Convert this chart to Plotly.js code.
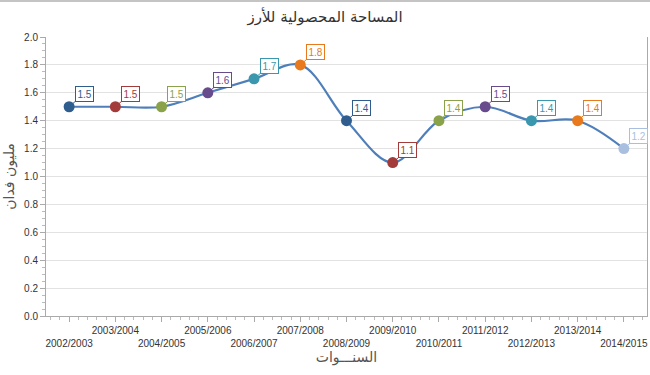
<!DOCTYPE html>
<html>
<head>
<meta charset="utf-8">
<script src="https://cdn.plot.ly/plotly-3.0.1.min.js"></script>
<style>
html,body{margin:0;padding:0;background:#fff;}
#wrap{width:650px;height:375px;box-sizing:border-box;border-top:2px solid #c4c4c4;}
#chart{width:650px;height:373px;}
</style>
</head>
<body>
<div id="wrap"><div id="chart"></div></div>
<script>
const years = ["2002/2003","2003/2004","2004/2005","2005/2006","2006/2007","2007/2008","2008/2009","2009/2010","2010/2011","2011/2012","2012/2013","2013/2014","2014/2015"];
const area = [1.5,1.5,1.5,1.6,1.7,1.8,1.4,1.1,1.4,1.5,1.4,1.4,1.2];
const pointColors = ["#2f5e8e","#a33b3b","#8aa34a","#674b8c","#3a97ae","#e8791c","#2f5e8e","#a33b3b","#8aa34a","#674b8c","#3a97ae","#e8791c","#aabfe0"];
const chartTitle = "المساحة المحصولية للأرز";
const xTitle = "السنـــوات";
const yTitle = "مليون فدان";

const idx = years.map((_, i) => i);
const tickText = years.map((y, i) => (i % 2 === 0 ? "<br>" + y : y));

const traces = [{
  x: idx, y: area, type: "scatter", mode: "lines+markers",
  line: {color: "#4f7fba", width: 2.2, shape: "spline", smoothing: 1},
  marker: {color: pointColors, size: 11},
  hoverinfo: "skip"
}];

const annotations = idx.map(i => ({
  x: i, y: area[i], xref: "x", yref: "y",
  text: area[i].toFixed(1),
  showarrow: true, arrowhead: 0, arrowwidth: 1, arrowcolor: pointColors[i],
  ax: 15, ay: -13,
  bordercolor: pointColors[i], borderwidth: 1, borderpad: 1.5, bgcolor: "#fff",
  font: {family: "Liberation Sans, Arial", size: 10, color: pointColors[i]}
}));

const layout = {
  width: 650, height: 373,
  margin: {l: 46, r: 3, t: 35, b: 59},
  paper_bgcolor: "#fff", plot_bgcolor: "#fff",
  showlegend: false,
  title: {text: chartTitle, x: 0.5, xanchor: "center", y: 0.96, yanchor: "middle",
    font: {family: "DejaVu Sans", size: 15, color: "#333"}},
  xaxis: {
    range: [-0.5, 12.5], tickmode: "array", tickvals: idx, ticktext: tickText, tickangle: 0,
    showgrid: false, zeroline: false, showline: true, linecolor: "#aaa", linewidth: 1,
    ticks: "outside", ticklen: 5, tickcolor: "#aaa",
    minor: {dtick: 0.2, tick0: 0, ticks: "outside", ticklen: 3, tickcolor: "#bbb", showgrid: false},
    tickfont: {family: "Liberation Sans, Arial", size: 10, color: "#333"},
    title: {text: xTitle, standoff: 4, font: {family: "DejaVu Sans", size: 14, color: "#555"}},
    automargin: false
  },
  yaxis: {
    range: [0, 2.0], dtick: 0.2, tickformat: ".1f",
    showgrid: true, gridcolor: "#e2e2e2", gridwidth: 1, zeroline: false,
    showline: true, linecolor: "#aaa", linewidth: 1, mirror: true,
    ticks: "outside", ticklen: 5, tickcolor: "#aaa",
    minor: {dtick: 0.05, ticks: "outside", ticklen: 3, tickcolor: "#bbb", showgrid: false},
    tickfont: {family: "Liberation Sans, Arial", size: 10, color: "#333"},
    title: {text: yTitle, standoff: 6, font: {family: "DejaVu Sans", size: 14, color: "#555"}},
    automargin: false
  },
  annotations: annotations
};

Plotly.newPlot("chart", traces, layout, {displayModeBar: false, staticPlot: true});
</script>
</body>
</html>
